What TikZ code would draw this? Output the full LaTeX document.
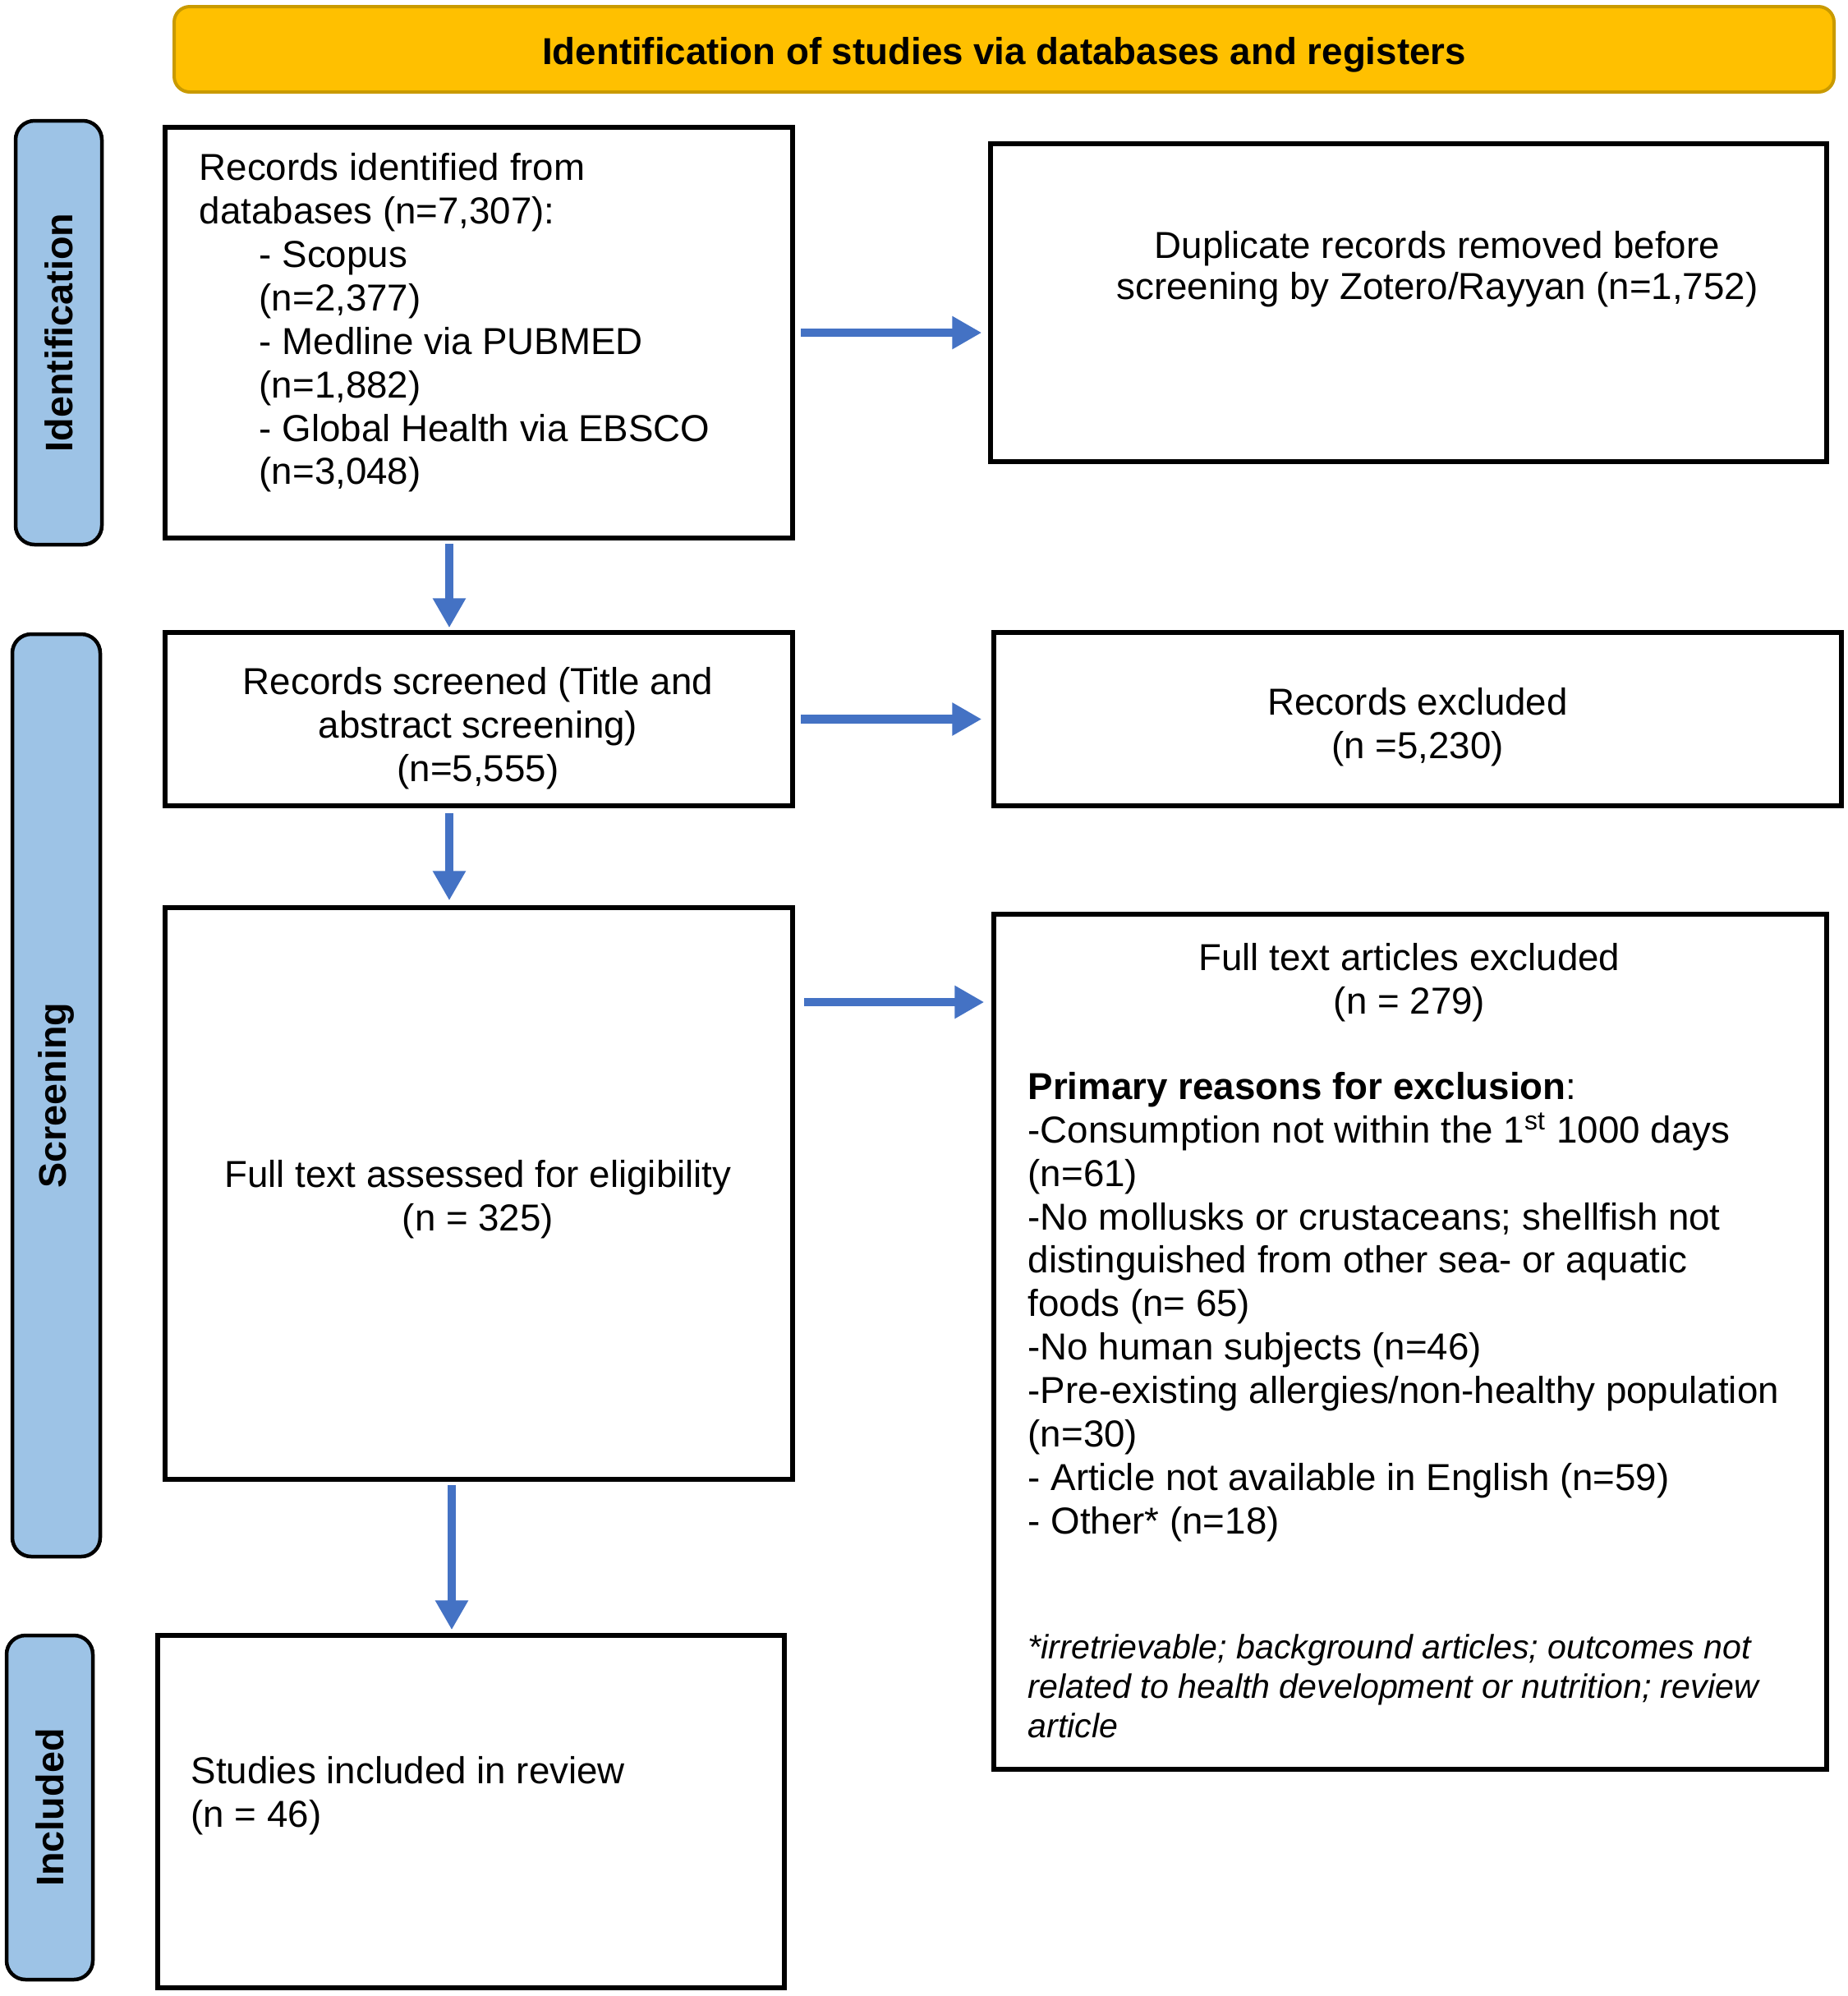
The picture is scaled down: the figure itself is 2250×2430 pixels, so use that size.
\documentclass[tikz,border=0pt]{standalone}
\usepackage{fontspec}
\setmainfont{Liberation Sans}
\usetikzlibrary{arrows.meta}
\definecolor{hdrfill}{HTML}{FFC000}
\definecolor{hdrline}{HTML}{C99A00}
\definecolor{sidefill}{HTML}{9DC3E6}
\definecolor{arrblue}{HTML}{4472C4}
\begin{document}
\begin{tikzpicture}[x=0.1mm,y=-0.1mm,
  box/.style={draw, line width=0.55mm, inner sep=0pt},
  side/.style={draw, line width=0.45mm, fill=sidefill, rounded corners=2.3mm, inner sep=0pt, rotate=90,
    font=\bfseries\fontsize{13.3}{15}\selectfont},
  txt/.style={inner sep=0pt, font=\fontsize{13}{15.05}\selectfont},
  ftxt/.style={inner sep=0pt, font=\itshape\fontsize{11.7}{13.6}\selectfont},
  arr/.style={draw=arrblue, line width=1.05mm, -{Triangle[length=3.6mm,width=3.8mm]}},
]
\useasboundingbox (0,0) rectangle (2250,2430);

% header
\node[draw=hdrline, fill=hdrfill, line width=0.4mm, rounded corners=1.9mm,
      minimum width=202.1mm, minimum height=10.4mm, inner sep=0pt,
      font=\bfseries\fontsize{13}{15}\selectfont] (hdr) at (1222.5,60)
      {\raisebox{-1.8mm}[0pt][0pt]{Identification of studies via databases and registers}};

% side labels
\node[side, minimum width=51.6mm, minimum height=10.5mm] (sid) at (71.5,405) {Identification};
\node[side, minimum width=112.3mm, minimum height=10.7mm] (sscr) at (68.5,1333.5) {Screening};
\node[side, minimum width=41.9mm, minimum height=10.5mm] (sinc) at (60.5,2200.5) {Included};

% boxes
\node[box, minimum width=76.4mm, minimum height=50.0mm] (A) at (583,405) {};
\node[box, minimum width=101.8mm, minimum height=38.7mm] (B) at (1715,368.5) {};
\node[box, minimum width=76.4mm, minimum height=21.1mm] (C) at (583,875.5) {};
\node[box, minimum width=103.2mm, minimum height=21.1mm] (D) at (1726,875.5) {};
\node[box, minimum width=76.4mm, minimum height=69.6mm] (E) at (583,1453) {};
\node[box, minimum width=101.4mm, minimum height=104.1mm] (F) at (1717,1633.5) {};
\node[box, minimum width=76.3mm, minimum height=42.9mm] (G) at (573.5,2205.5) {};

% texts
\node[txt, align=left, anchor=west] (At) at (242,393)
  {Records identified from\\databases (n=7,307):\\
   \hspace*{7.3mm}- Scopus\\\hspace*{7.3mm}(n=2,377)\\
   \hspace*{7.3mm}- Medline via PUBMED\\\hspace*{7.3mm}(n=1,882)\\
   \hspace*{7.3mm}- Global Health via EBSCO\\\hspace*{7.3mm}(n=3,048)};
\node[txt, align=center, font=\fontsize{13}{14.3}\selectfont] (Bt) at (1750,328)
  {Duplicate records removed before\\screening by Zotero/Rayyan (n=1,752)};
\node[txt, align=center] (Ct) at (582,887)
  {Records screened (Title and\\abstract screening)\\(n=5,555)};
\node[txt, align=center] (Dt) at (1726,885)
  {Records excluded\\(n =5,230)};
\node[txt, align=center] (Et) at (582,1460)
  {Full text assessed for eligibility\\(n = 325)};
\node[txt, align=center] (Ft) at (1716,1196)
  {Full text articles excluded\\(n = 279)};
\node[txt, align=left, anchor=west] (Fl) at (1251,1591)
  {\textbf{Primary reasons for exclusion}:\\
   -Consumption not within the 1\textsuperscript{st} 1000 days\\
   (n=61)\\
   -No mollusks or crustaceans; shellfish not\\
   distinguished from other sea- or aquatic\\
   foods (n= 65)\\
   -No human subjects (n=46)\\
   -Pre-existing allergies/non-healthy population\\
   (n=30)\\
   - Article not available in English (n=59)\\
   - Other* (n=18)};
\node[ftxt, align=left, anchor=west] (Fn) at (1251,2053)
  {*irretrievable; background articles; outcomes not\\
   related to health development or nutrition; review\\
   article};
\node[txt, align=left, anchor=west] (Gt) at (232,2186)
  {Studies included in review\\(n = 46)};

% connectors
\coordinate (xa) at (547,0);
\coordinate (xg) at (550,0);
\coordinate (ye) at (0,1220);
\draw[arr, shorten <=0.7mm, shorten >=0.8mm] (A.east) -- (A.east -| B.west);
\draw[arr, shorten <=0.4mm, shorten >=0.3mm] (A.south -| xa) -- (C.north -| xa);
\draw[arr, shorten <=0.7mm, shorten >=1.2mm] (C.east) -- (D.west);
\draw[arr, shorten <=0.6mm, shorten >=0.6mm] (C.south -| xa) -- (E.north -| xa);
\draw[arr, shorten <=1.1mm, shorten >=0.9mm] (E.east |- ye) -- (F.west |- ye);
\draw[arr, shorten <=0.4mm, shorten >=0.4mm] (E.south -| xg) -- (G.north -| xg);
\end{tikzpicture}
\end{document}
